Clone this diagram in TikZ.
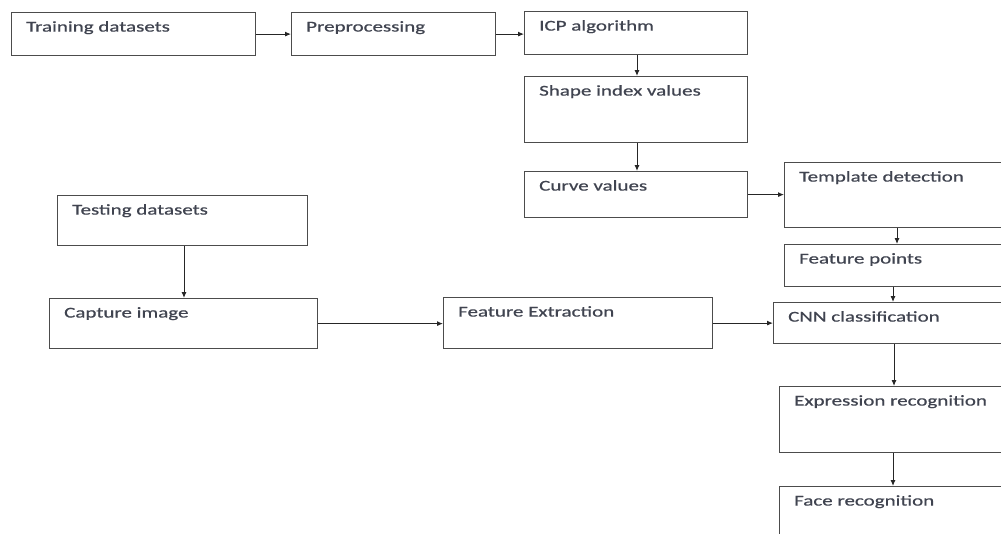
\documentclass[tikz,border=0pt]{standalone}
\usepackage{fontspec}
\setmainfont[FakeStretch=1.4,FakeBold=0.6]{Carlito}
\usetikzlibrary{arrows.meta}
\definecolor{txt}{HTML}{404450}
\begin{document}
\begin{tikzpicture}[x=1pt,y=-1pt,
  box/.style={draw=black!70, line width=1.2pt, fill=white, anchor=north west, inner sep=0pt},
  lbl/.style={anchor=north west, inner sep=0pt, xshift=15pt, yshift=-9pt, text=txt, font=\fontsize{15}{18}\selectfont},
  conn/.style={draw=black!85, line width=1pt, -{Latex[length=6pt,width=5pt]}}]
\useasboundingbox[fill=white] (0,0) rectangle (1001,533);
\begin{scope}
\clip (0,0) rectangle (1001,533);
\node[box, minimum width=244pt, minimum height=43pt, label={[lbl]north west:Training datasets}] (tr) at (11,12) {};
\node[box, minimum width=204pt, minimum height=43pt, label={[lbl]north west:Preprocessing}] (pre) at (291,12) {};
\node[box, minimum width=223pt, minimum height=43pt, label={[lbl]north west:ICP algorithm}] (icp) at (524,11) {};
\node[box, minimum width=223pt, minimum height=66pt, label={[lbl]north west:Shape index values}] (shp) at (524,76) {};
\node[box, minimum width=223pt, minimum height=46pt, label={[lbl]north west:Curve values}] (cur) at (524,171) {};
\node[box, minimum width=230pt, minimum height=65pt, label={[lbl]north west:Template detection}] (tpl) at (784,162) {};
\node[box, minimum width=230pt, minimum height=42pt, label={[lbl]north west:Feature points}] (fp) at (784,244) {};
\node[box, minimum width=240pt, minimum height=41pt, label={[lbl]north west:CNN classification}] (cnn) at (773,302) {};
\node[box, minimum width=240pt, minimum height=66pt, label={[lbl]north west:Expression recognition}] (exp) at (779,386) {};
\node[box, minimum width=240pt, minimum height=60pt, label={[lbl]north west:Face recognition}] (face) at (779,486) {};
\node[box, minimum width=250pt, minimum height=50pt, label={[lbl]north west:Testing datasets}] (tst) at (57,195) {};
\node[box, minimum width=268pt, minimum height=50pt, label={[lbl]north west:Capture image}] (cap) at (49,298) {};
\node[box, minimum width=269pt, minimum height=51pt, label={[lbl]north west:Feature Extraction}] (fe) at (443,297) {};

\draw[conn] (tr.east) -- (pre.west);
\draw[conn] (pre.east) -- (pre.east -| icp.west);
\draw[conn] ([xshift=113pt]icp.south west) -- ([xshift=113pt]shp.north west);
\draw[conn] ([xshift=113pt]shp.south west) -- ([xshift=113pt]cur.north west);
\draw[conn] (cur.east) -- (cur.east -| tpl.west);
\draw[conn] ([xshift=113pt]tpl.south west) -- ([xshift=113pt]fp.north west);
\draw[conn] ([xshift=109pt]fp.south west) -- ([xshift=120pt]cnn.north west);
\draw[conn] ([xshift=121pt]cnn.south west) -- ([xshift=115pt]exp.north west);
\draw[conn] ([xshift=114pt]exp.south west) -- ([xshift=114pt]face.north west);
\draw[conn] ([xshift=127pt]tst.south west) -- ([xshift=135pt]cap.north west);
\draw[conn] (cap.east) -- (cap.east -| fe.west);
\draw[conn] (fe.east) -- (fe.east -| cnn.west);
\end{scope}
\end{tikzpicture}
\end{document}
